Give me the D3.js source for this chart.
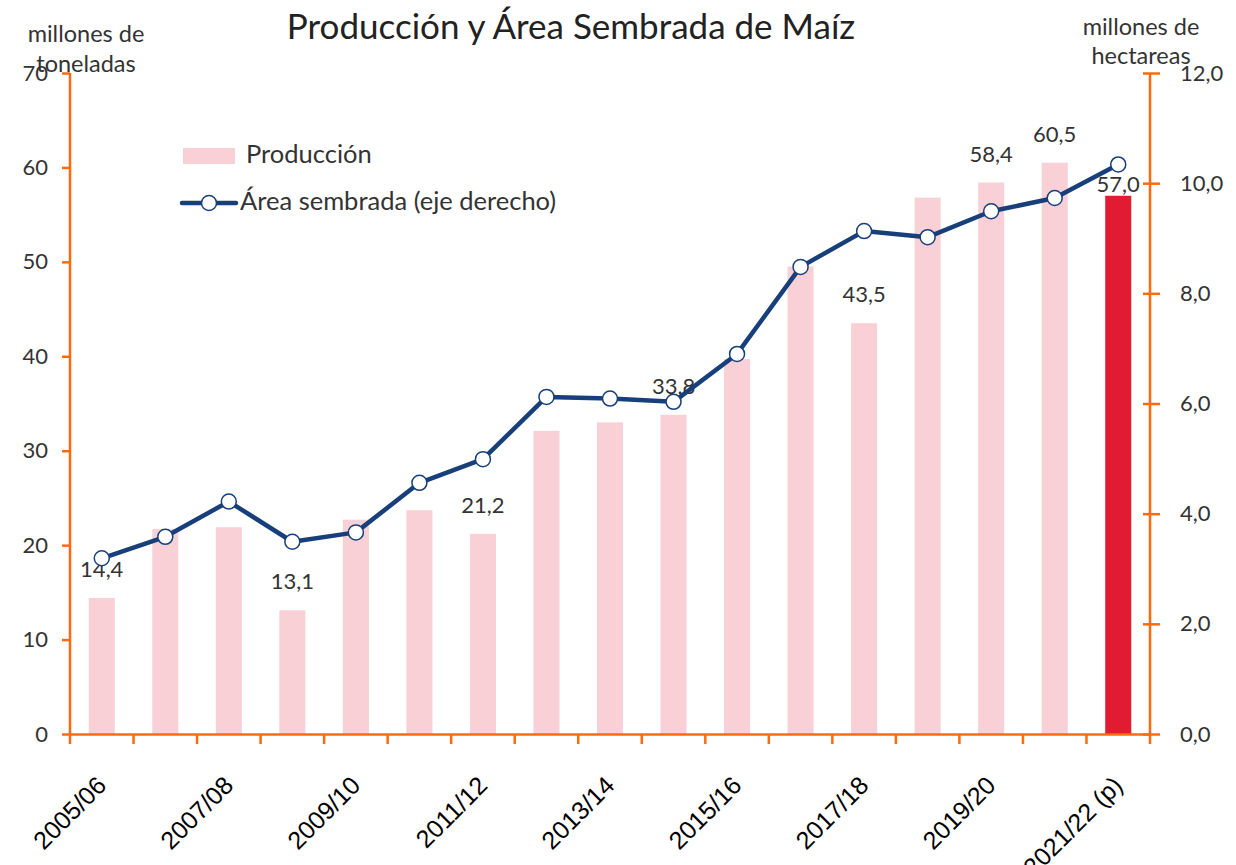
<!DOCTYPE html>
<html>
<head>
<meta charset="utf-8">
<script src="https://cdnjs.cloudflare.com/ajax/libs/d3/7.8.5/d3.min.js"></script>
<style>
  body { margin: 0; background: #fff; }
  svg { font-family: Lato, "Open Sans", sans-serif; }
</style>
</head>
<body>
<div id="chart"></div>
<script>
// campañas
var seasons = ["2005/06", "2006/07", "2007/08", "2008/09", "2009/10", "2010/11", "2011/12",
  "2012/13", "2013/14", "2014/15", "2015/16", "2016/17", "2017/18", "2018/19",
  "2019/20", "2020/21", "2021/22 (p)"];
// producción, millones de toneladas
var production = [14.4, 21.7, 21.9, 13.1, 22.7, 23.7, 21.2, 32.1, 33.0, 33.8,
  39.7, 49.5, 43.5, 56.8, 58.4, 60.5, 57.0];
// área sembrada, millones de hectáreas
var area = [3.19, 3.58, 4.22, 3.49, 3.66, 4.56, 4.99, 6.12, 6.09, 6.03,
  6.90, 8.48, 9.13, 9.02, 9.49, 9.73, 10.34];
// barras con etiqueta de valor
var labeled = ["2005/06", "2008/09", "2011/12", "2014/15", "2017/18", "2019/20", "2020/21", "2021/22 (p)"];
var xTickLabels = ["2005/06", "2007/08", "2009/10", "2011/12", "2013/14", "2015/16", "2017/18", "2019/20", "2021/22 (p)"];
var leftTicks = [0, 10, 20, 30, 40, 50, 60, 70];
var rightTicks = [0, 2, 4, 6, 8, 10, 12];

var W = 1236, H = 865;
var mLeft = 70, mRight = 1150, mTop = 73, mBottom = 734;
var orange = "#ff6a0d", navy = "#173f7a", pink = "#f8d0d6", red = "#e11b31";
var fmt = function(v) { return d3.format(".1f")(v).replace(".", ","); };

var svg = d3.select("#chart").append("svg")
  .attr("width", W).attr("height", H);

var x = d3.scaleBand().domain(seasons).range([mLeft, mRight]).paddingInner(0.59).paddingOuter(0.295);
var xb = d3.scaleBand().domain(seasons).range([mLeft, mRight]);
var y = d3.scaleLinear().domain([0, 70]).range([mBottom, mTop]);
var y2 = d3.scaleLinear().domain([0, 12]).range([mBottom, mTop]);

var data = seasons.map(function(s, i) { return { s: s, p: production[i], a: area[i] }; });

// barras
svg.append("g").selectAll("rect")
  .data(data).enter().append("rect")
  .attr("x", function(d) { return x(d.s); })
  .attr("width", x.bandwidth())
  .attr("y", function(d) { return y(d.p); })
  .attr("height", function(d) { return y(0) - y(d.p); })
  .attr("fill", function(d, i) { return i == seasons.length - 1 ? red : pink; });

// etiquetas de barras
svg.append("g").selectAll("text")
  .data(data.filter(function(d) { return labeled.indexOf(d.s) >= 0; }))
  .enter().append("text")
  .attr("x", function(d) { return xb(d.s) + xb.bandwidth() / 2; })
  .attr("y", function(d) { return y(d.p) - (d.s == "2021/22 (p)" ? 4 : 21); })
  .attr("text-anchor", "middle")
  .attr("font-size", 22)
  .attr("fill", "#333")
  .text(function(d) { return fmt(d.p); });

// ejes
var axisLeft = svg.append("g").attr("transform", "translate(" + mLeft + ",0)")
  .call(d3.axisLeft(y).tickValues(leftTicks).tickSize(8).tickPadding(14).tickFormat(d3.format("d")));
var axisRight = svg.append("g").attr("transform", "translate(" + mRight + ",0)")
  .call(d3.axisRight(y2).tickValues(rightTicks).tickSize(10).tickPadding(20).tickFormat(fmt));
axisRight.selectAll(".tick line").attr("x1", -7);
var axisBottom = svg.append("g").attr("transform", "translate(0," + mBottom + ")")
  .call(d3.axisBottom(xb).tickValues([]).tickSizeOuter(0));
// marcas en los límites de cada campaña
axisBottom.selectAll(".edge").data(seasons.concat(["end"])).enter().append("line")
  .attr("class", "edge")
  .attr("x1", function(d) { return d == "end" ? mRight : xb(d); })
  .attr("x2", function(d) { return d == "end" ? mRight : xb(d); })
  .attr("y1", 0).attr("y2", 10)
  .attr("stroke", orange).attr("stroke-width", 2.5);
axisBottom.selectAll(".lab").data(xTickLabels).enter().append("text")
  .attr("class", "lab")
  .attr("transform", function(d) {
    return "translate(" + (xb(d) + xb.bandwidth() / 2 + 6) + ",53) rotate(-45)";
  })
  .attr("text-anchor", "end")
  .attr("font-size", 25)
  .attr("fill", "#000")
  .text(function(d) { return d; });

[axisLeft, axisRight, axisBottom].forEach(function(g) {
  g.select(".domain").attr("stroke", orange).attr("stroke-width", 2.5);
  g.selectAll(".tick line").attr("stroke", orange).attr("stroke-width", 2.5);
  g.selectAll(".tick text").attr("font-size", 22).attr("fill", "#333").attr("font-family", "Lato, sans-serif");
});
axisLeft.select(".domain").attr("d", "M0," + mTop + "V" + mBottom);
axisRight.select(".domain").attr("d", "M0," + mTop + "V" + mBottom);

// línea de área sembrada
var line = d3.line()
  .x(function(d) { return xb(d.s) + xb.bandwidth() / 2; })
  .y(function(d) { return y2(d.a); });
svg.append("path").datum(data)
  .attr("d", line)
  .attr("fill", "none")
  .attr("stroke", navy)
  .attr("stroke-width", 4.5)
  .attr("stroke-linejoin", "round");
svg.append("g").selectAll("circle")
  .data(data).enter().append("circle")
  .attr("cx", function(d) { return xb(d.s) + xb.bandwidth() / 2; })
  .attr("cy", function(d) { return y2(d.a); })
  .attr("r", 7.5)
  .attr("fill", "#fff")
  .attr("stroke", navy)
  .attr("stroke-width", 1.5);

// títulos
svg.append("text").attr("x", 571).attr("y", 39).attr("text-anchor", "middle")
  .attr("font-size", 35).attr("fill", "#222").text("Producción y Área Sembrada de Maíz");
svg.append("text").attr("x", 86).attr("text-anchor", "middle").attr("font-size", 23.5).attr("fill", "#333")
  .selectAll("tspan").data(["millones de", "toneladas"]).enter().append("tspan")
  .attr("x", 86).attr("y", function(d, i) { return 42 + i * 30; }).text(function(d) { return d; });
svg.append("text").attr("x", 1141).attr("text-anchor", "middle").attr("font-size", 23.5).attr("fill", "#333")
  .selectAll("tspan").data(["millones de", "hectareas"]).enter().append("tspan")
  .attr("x", 1141).attr("y", function(d, i) { return 35 + i * 29; }).text(function(d) { return d; });

// leyenda
var lg = svg.append("g").attr("font-size", 25.5).attr("fill", "#333");
lg.append("rect").attr("x", 183).attr("y", 148).attr("width", 52).attr("height", 16).attr("fill", pink);
lg.append("text").attr("x", 246).attr("y", 163).text("Producción");
lg.append("line").attr("x1", 182).attr("x2", 236).attr("y1", 203).attr("y2", 203)
  .attr("stroke", navy).attr("stroke-width", 4.5).attr("stroke-linecap", "round");
lg.append("circle").attr("cx", 209).attr("cy", 203).attr("r", 7.5)
  .attr("fill", "#fff").attr("stroke", navy).attr("stroke-width", 1.5);
lg.append("text").attr("x", 240).attr("y", 210).text("Área sembrada (eje derecho)");
</script>
</body>
</html>
